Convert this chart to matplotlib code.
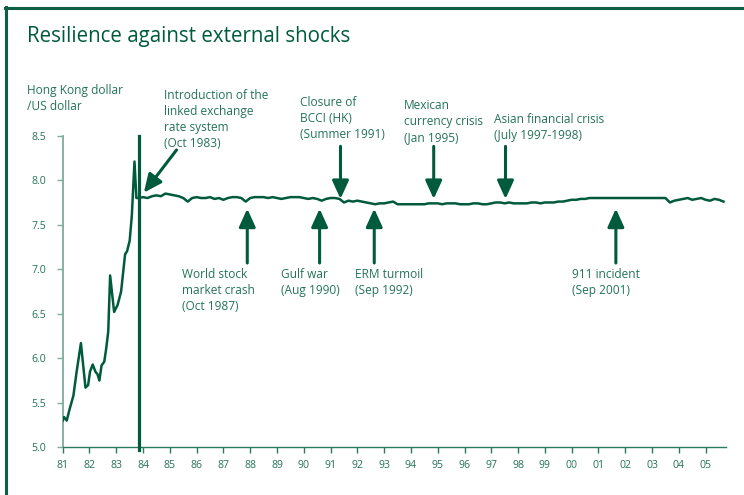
import matplotlib
matplotlib.use("Agg")
import matplotlib.pyplot as plt
import numpy as np
from matplotlib.lines import Line2D

# ---------------- data ----------------
# Floating period (1981 - Oct 1983)
float_years = [1981.00, 1981.05, 1981.10, 1981.15, 1981.25, 1981.40, 1981.52, 1981.68,
               1981.85, 1981.95, 1982.02, 1982.12, 1982.22, 1982.30, 1982.37, 1982.45,
               1982.55, 1982.62, 1982.70, 1982.77, 1982.92, 1983.05, 1983.18, 1983.33,
               1983.40, 1983.50, 1983.58, 1983.68, 1983.75, 1983.83]
float_rates = [5.30, 5.34, 5.32, 5.30, 5.42, 5.58, 5.85, 6.17,
               5.67, 5.70, 5.85, 5.93, 5.85, 5.82, 5.75, 5.92,
               5.96, 6.10, 6.30, 6.93, 6.52, 6.60, 6.75, 7.17,
               7.20, 7.32, 7.60, 8.21, 7.80, 7.80]

# Linked rate period, bi-monthly readings starting Nov 1983
peg_start = 1983.833
peg_step = 1 / 6
peg_rates = [
    7.80, 7.81,                                   # 1983
    7.80, 7.82, 7.83, 7.82, 7.85, 7.84,           # 1984
    7.83, 7.82, 7.80, 7.76, 7.80, 7.81,           # 1985
    7.80, 7.80, 7.81, 7.79, 7.80, 7.78,           # 1986
    7.80, 7.81, 7.81, 7.80, 7.76, 7.80,           # 1987
    7.81, 7.81, 7.81, 7.80, 7.81, 7.80,           # 1988
    7.79, 7.80, 7.81, 7.81, 7.81, 7.80,           # 1989
    7.79, 7.80, 7.79, 7.77, 7.79, 7.80,           # 1990
    7.80, 7.79, 7.75, 7.77, 7.76, 7.77,           # 1991
    7.76, 7.75, 7.74, 7.73, 7.74, 7.74,           # 1992
    7.75, 7.76, 7.73, 7.73, 7.73, 7.73,           # 1993
    7.73, 7.73, 7.73, 7.74, 7.74, 7.74,           # 1994
    7.73, 7.74, 7.74, 7.74, 7.73, 7.73,           # 1995
    7.73, 7.74, 7.74, 7.73, 7.73, 7.74,           # 1996
    7.75, 7.75, 7.74, 7.75, 7.74, 7.74,           # 1997
    7.74, 7.74, 7.75, 7.75, 7.74, 7.75,           # 1998
    7.75, 7.75, 7.76, 7.76, 7.77, 7.78,           # 1999
    7.78, 7.79, 7.79, 7.80, 7.80, 7.80,           # 2000
    7.80, 7.80, 7.80, 7.80, 7.80, 7.80,           # 2001
    7.80, 7.80, 7.80, 7.80, 7.80, 7.80,           # 2002
    7.80, 7.80, 7.80, 7.75, 7.77, 7.78,           # 2003
    7.79, 7.80, 7.78, 7.79, 7.80, 7.78,           # 2004
    7.77, 7.79, 7.78, 7.76,                       # 2005
]

peg_line_year = 1983.85

x_ticks = list(range(1981, 2006))
x_tick_labels = ["81", "82", "83", "84", "85", "86", "87", "88", "89", "90", "91",
                 "92", "93", "94", "95", "96", "97", "98", "99", "00", "01", "02",
                 "03", "04", "05"]
y_ticks = [5.0, 5.5, 6.0, 6.5, 7.0, 7.5, 8.0, 8.5]

# events
down_events = [1991.37, 1994.85, 1997.53]
down_labels = ["Closure of\nBCCI (HK)\n(Summer 1991)",
               "Mexican\ncurrency crisis\n(Jan 1995)",
               "Asian financial crisis\n(July 1997-1998)"]
up_events = [1987.89, 1990.59, 1992.63, 2001.65]
up_labels = ["World stock\nmarket crash\n(Oct 1987)",
             "Gulf war\n(Aug 1990)",
             "ERM turmoil\n(Sep 1992)",
             "911 incident\n(Sep 2001)"]

# ---------------- style ----------------
DARK = "#005a3c"
TEXT = "#24735a"
LIGHT_AXIS = "#7fab9c"
FONT = "Open Sans"

W, H = 744, 495
fig = plt.figure(figsize=(W / 100, H / 100), dpi=100)


def fx(px):
    return px / W


def fy(py):
    return 1 - py / H


ax = fig.add_axes([fx(62.7), fy(447.3), fx(725.7) - fx(62.7), fy(135.7) - fy(447.3)])
ax.set_xlim(1981, 2005.75)
ax.set_ylim(5.0, 8.5)

peg_years = peg_start + np.arange(len(peg_rates)) * peg_step
all_x = list(float_years) + list(peg_years[1:])
all_y = list(float_rates) + list(peg_rates[1:])
ax.plot(all_x, all_y, color=DARK, lw=1.8, solid_joinstyle="round", zorder=3)

ax.axvline(peg_line_year, ymin=-0.01, ymax=1, color=DARK, lw=2.3, clip_on=False, zorder=4)

for s in ["top", "right"]:
    ax.spines[s].set_visible(False)
ax.spines["left"].set_color(LIGHT_AXIS)
ax.spines["left"].set_linewidth(1.3)
ax.spines["bottom"].set_color("#2a7a60")
ax.spines["bottom"].set_linewidth(1.0)

ax.set_xticks(x_ticks)
ax.set_xticklabels(x_tick_labels)
ax.set_yticks(y_ticks)
ax.set_yticklabels([f"{v:.1f}" for v in y_ticks])
ax.tick_params(axis="x", length=4, width=1.0, color="#2a7a60", pad=5,
               labelsize=7.6, labelcolor=TEXT)
ax.tick_params(axis="y", length=4, width=1.0, color=LIGHT_AXIS, pad=8,
               labelsize=7.6, labelcolor=TEXT)
for lab in ax.get_xticklabels() + ax.get_yticklabels():
    lab.set_fontfamily(FONT)

# arrows
arrow_style = "-|>,head_length=11,head_width=5"
for d in down_events:
    ax.annotate("", xy=(d, 7.79), xytext=(d, 8.38),
                arrowprops=dict(arrowstyle=arrow_style, mutation_scale=1,
                                color=DARK, lw=2.2, shrinkA=0, shrinkB=0))
for d in up_events:
    ax.annotate("", xy=(d, 7.68), xytext=(d, 7.07),
                arrowprops=dict(arrowstyle=arrow_style, mutation_scale=1,
                                color=DARK, lw=2.2, shrinkA=0, shrinkB=0))
ax.annotate("", xy=(1984.03, 7.86), xytext=(1985.25, 8.34),
            arrowprops=dict(arrowstyle=arrow_style, mutation_scale=1,
                            color=DARK, lw=2.2, shrinkA=0, shrinkB=0))

# texts
fs = 8.6
ls = 1.3
fig.text(fx(27.3), fy(41.7), "Resilience against external shocks", fontsize=14.8,
         color=DARK, family=FONT, va="baseline", ha="left")
fig.text(fx(27), fy(98.5), "Hong Kong dollar\n/US dollar", fontsize=fs, color=TEXT,
         family=FONT, va="center", ha="left", linespacing=ls)
fig.text(fx(164), fy(119.5), "Introduction of the\nlinked exchange\nrate system\n(Oct 1983)",
         fontsize=fs, color=TEXT, family=FONT, va="center", ha="left", linespacing=ls)

down_pos = [(300, 118.3), (404, 121.8), (494.3, 127.5)]
for (px, py), lab in zip(down_pos, down_labels):
    fig.text(fx(px), fy(py), lab, fontsize=fs, color=TEXT, family=FONT,
             va="center", ha="left", linespacing=ls)
up_pos = [(182, 290), (280.7, 282.5), (355, 282.5), (572.3, 282.5)]
for (px, py), lab in zip(up_pos, up_labels):
    fig.text(fx(px), fy(py), lab, fontsize=fs, color=TEXT, family=FONT,
             va="center", ha="left", linespacing=ls)

# frame (top and left rules)
fig.add_artist(Line2D([fx(5), 1.0], [fy(8), fy(8)], color="#0d5f46", lw=2.2,
                      transform=fig.transFigure))
fig.add_artist(Line2D([fx(6), fx(6)], [fy(7), 0.0], color="#0d5f46", lw=2.2,
                      transform=fig.transFigure))

fig.savefig("out.png", dpi=100)
